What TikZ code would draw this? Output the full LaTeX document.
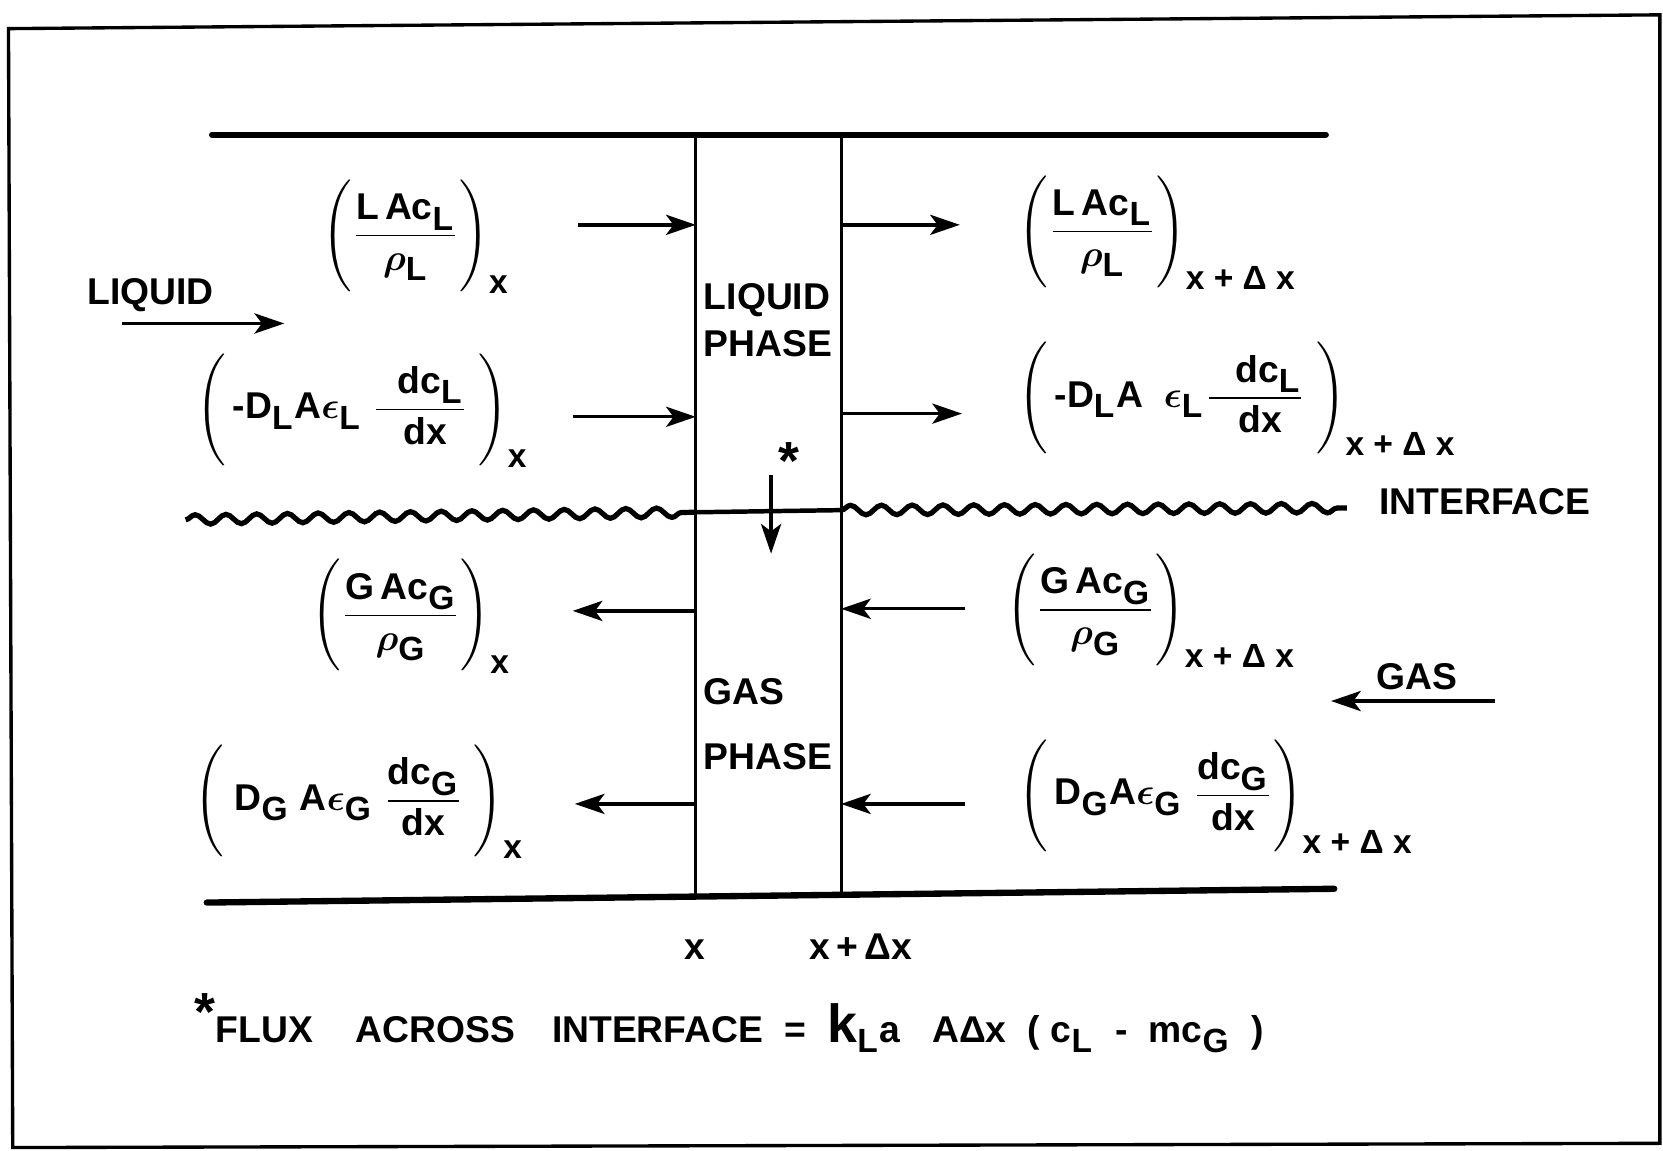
\documentclass[tikz,border=0pt]{standalone}
\usepackage{amsmath}
\usepackage{fontspec}
\setmainfont{Liberation Sans}
\usetikzlibrary{arrows.meta, decorations.pathmorphing}
\DeclareMathSizes{10}{10}{9}{7}
\newcommand{\mtx}[1]{\text{#1}}

\begin{document}
\begin{tikzpicture}[
    x=1cm, y=1cm,
    every node/.style={font=\fontsize{10}{12.5}\selectfont\bfseries, inner sep=0pt},
    bar/.style={line width=1.7pt, line cap=round},
    wall/.style={line width=0.8pt},
    wave/.style={line width=1.4pt, decorate, decoration={snake, segment length=2.9mm, amplitude=0.45mm}},
    flow/.style={line width=0.9pt, -{Stealth[length=2.8mm, width=1.9mm, inset=0.7mm]}},
    expr/.style={anchor=base west}
  ]
  \useasboundingbox (0,0) rectangle (15.68,10.85);
  % outer frame (slightly skewed, as scanned)
  \draw[line width=0.9pt] (0.08,10.58) -- (15.65,10.71) -- (15.65,0.07) -- (0.12,0.03) -- cycle;

  % channel walls
  \coordinate (topL) at (2.00,9.58);
  \coordinate (topR) at (12.50,9.58);
  \coordinate (botL) at (1.95,2.34);
  \coordinate (botR) at (12.58,2.47);
  \coordinate (wallLtop) at (6.56,9.58);
  \coordinate (wallLbot) at (6.56,2.39);
  \coordinate (wallRtop) at (7.93,9.58);
  \coordinate (wallRbot) at (7.93,2.42);
  \draw[bar] (topL) -- (topR);
  \draw[bar] (botL) -- (botR);
  \draw[wall] (wallLtop) -- (wallLbot);
  \draw[wall] (wallRtop) -- (wallRbot);

  % interface
  \coordinate (ifL) at (1.75,5.95);
  \coordinate (ifML) at (6.56,6.02);
  \coordinate (ifMR) at (7.93,6.04);
  \coordinate (ifR) at (12.70,6.06);
  \draw[wave] (ifL) -- (ifML);
  \draw[line width=1.2pt] (ifML) -- (ifMR);
  \draw[wave] (ifMR) -- (ifR);
  \node (iflbl) at (14.00,6.12) {INTERFACE};

  % flux across the interface
  \coordinate (fluxtop) at (7.27,6.37);
  \coordinate (fluxbot) at (7.27,5.63);
  \draw[flow] (fluxtop) -- (fluxbot);
  \node (star) at (7.44,6.50) {\Large *};

  % phase labels
  \node[anchor=west, align=left] (liqphase) at (6.63,7.83) {LIQUID\\PHASE};
  \node[anchor=west, align=left] (gasphase) at (6.63,4.02) {GAS\\[5pt]PHASE};

  % feed streams
  \node (liqlbl) at (1.42,8.07) {LIQUID};
  \coordinate (liqA) at (1.15,7.80);
  \coordinate (liqB) at (2.68,7.80);
  \draw[flow] (liqA) -- (liqB);
  \node (gaslbl) at (13.36,4.47) {GAS};
  \coordinate (gasA) at (14.10,4.24);
  \coordinate (gasB) at (12.55,4.24);
  \draw[flow] (gasA) -- (gasB);

  % liquid side fluxes
  \coordinate (inL1) at (5.45,8.73);
  \coordinate (inL2) at (5.40,6.92);
  \coordinate (outL1) at (9.05,8.73);
  \coordinate (outL2) at (9.07,6.95);
  \draw[flow] (inL1) -- (inL1 -| wallLtop);
  \draw[flow] (inL2) -- (inL2 -| wallLtop);
  \draw[flow] (outL1 -| wallRtop) -- (outL1);
  \draw[flow] (outL2 -| wallRtop) -- (outL2);

  % gas side fluxes
  \coordinate (gasL1) at (5.40,5.09);
  \coordinate (gasL2) at (5.42,3.27);
  \coordinate (gasR1) at (9.10,5.11);
  \coordinate (gasR2) at (9.10,3.27);
  \draw[flow] (gasL1 -| wallLtop) -- (gasL1);
  \draw[flow] (gasL2 -| wallLtop) -- (gasL2);
  \draw[flow] (gasR1) -- (gasR1 -| wallRtop);
  \draw[flow] (gasR2) -- (gasR2 -| wallRtop);

  % liquid terms
  \node[expr] (convLx) at (3.03,8.54)
    {$\Bigg(\dfrac{\mtx{L\,Ac}_{\mtx{L}}}{\boldsymbol{\rho}_{\mtx{L}}}\Bigg)_{\mtx{x}}$};
  \node[expr] (diffLx) at (1.85,6.90)
    {$\Bigg(\,\mtx{-D}_{\mtx{L}}\mtx{A}\boldsymbol{\epsilon}_{\mtx{L}}\;\dfrac{\hspace{2mm}\mtx{dc}_{\mtx{L}}}{\hspace{1mm}\mtx{dx}}\;\Bigg)_{\mtx{x}}$};
  \node[expr] (convLdx) at (9.60,8.58)
    {$\Bigg(\dfrac{\mtx{L\,Ac}_{\mtx{L}}}{\boldsymbol{\rho}_{\mtx{L}}}\Bigg)_{\mtx{x + Δ x}}$};
  \node[expr] (diffLdx) at (9.60,7.01)
    {$\Bigg(\,\mtx{-D}_{\mtx{L}}\mtx{A}\;\;\boldsymbol{\epsilon}_{\mtx{L}}\dfrac{\hspace{2.5mm}\mtx{dc}_{\mtx{L}}}{\hspace{1mm}\mtx{dx}}\;\Bigg)_{\mtx{x + Δ x}}$};

  % gas terms
  \node[expr] (convGx) at (2.93,4.96)
    {$\Bigg(\dfrac{\mtx{G\,Ac}_{\mtx{G}}}{\boldsymbol{\rho}_{\mtx{G}}}\Bigg)_{\mtx{x}}$};
  \node[expr] (diffGx) at (1.83,3.21)
    {$\Bigg(\;\mtx{D}_{\mtx{G}}\;\mtx{A}\boldsymbol{\epsilon}_{\mtx{G}}\;\dfrac{\mtx{dc}_{\mtx{G}}}{\mtx{dx}}\;\Bigg)_{\mtx{x}}$};
  \node[expr] (convGdx) at (9.48,5.01)
    {$\Bigg(\dfrac{\mtx{G\,Ac}_{\mtx{G}}}{\boldsymbol{\rho}_{\mtx{G}}}\Bigg)_{\mtx{x + Δ x}}$};
  \node[expr] (diffGdx) at (9.60,3.26)
    {$\Bigg(\,\mtx{D}_{\mtx{G}}\mtx{A}\boldsymbol{\epsilon}_{\mtx{G}}\;\dfrac{\mtx{dc}_{\mtx{G}}}{\mtx{dx}}\Bigg)_{\mtx{x + Δ x}}$};

  % positions along the column
  \node (xlbl) at (6.55,1.90) {x};
  \node (xdxlbl) at (8.12,1.92) {x\,+\,Δx};

  % footnote
  \node[anchor=west] (note) at (1.83,1.20)
    {\raisebox{3pt}{\Large *}FLUX\hspace{4mm}ACROSS\hspace{3.5mm}INTERFACE\hspace{2mm}=\hspace{2mm}{\Large k}$_{\mtx{L}}$a\hspace{3mm}AΔx\hspace{2mm}(\hspace{1mm}c$_{\mtx{L}}$\hspace{2mm}-\hspace{2mm}mc$_{\mtx{G}}$\hspace{2mm})};
\end{tikzpicture}
\end{document}
